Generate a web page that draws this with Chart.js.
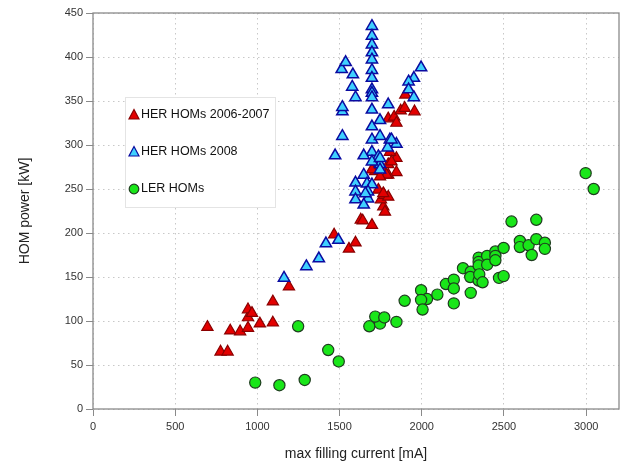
<!DOCTYPE html>
<html>
<head>
<meta charset="utf-8">
<script src="https://cdn.jsdelivr.net/npm/chart.js@4.4.1/dist/chart.umd.min.js"></script>
<style>
  html, body { margin: 0; padding: 0; background: #fff; }
  #wrap { width: 627px; height: 463px; }
</style>
</head>
<body>
<div id="wrap"><canvas id="homChart" width="627" height="463"></canvas></div>
<script>
// Data: [max filling current (mA), HOM power (kW)]
const herOld = [
  [696, 93], [776, 65], [819, 65], [835, 89], [895, 88], [943, 92], [943, 104], [943, 113],
  [967, 109], [1015, 97], [1094, 98], [1094, 122], [1192, 139],
  [1467, 198], [1557, 182], [1597, 189], [1629, 215], [1641, 214], [1697, 209],
  [1766, 230], [1776, 224], [1752, 238], [1736, 249], [1772, 243], [1796, 241],
  [1716, 270], [1752, 275], [1796, 278], [1846, 269], [1796, 266], [1846, 285], [1806, 292],
  [1816, 281], [1786, 266], [1746, 264], [1697, 272], [1766, 245],
  [1796, 330], [1832, 332], [1846, 325], [1872, 339], [1896, 342], [1956, 338], [1900, 357]
];
const her2008 = [
  [1162, 149], [1298, 162], [1374, 171], [1417, 188], [1493, 192],
  [1473, 288], [1517, 310], [1517, 338], [1517, 343], [1513, 386], [1537, 394], [1581, 380],
  [1577, 366], [1597, 354],
  [1697, 435], [1697, 424], [1697, 414], [1697, 405], [1697, 397], [1697, 385], [1697, 376],
  [1697, 363], [1697, 359], [1697, 354], [1697, 340], [1697, 321], [1697, 306], [1697, 292],
  [1996, 388], [1952, 376], [1920, 372], [1920, 363], [1952, 354], [1796, 346], [1746, 328],
  [1746, 310], [1806, 306], [1846, 301], [1792, 297], [1816, 306],
  [1647, 288], [1736, 287], [1746, 278], [1746, 272], [1647, 266], [1597, 257], [1667, 256],
  [1697, 255], [1597, 247], [1673, 247], [1673, 239], [1597, 238], [1647, 232],
  [1697, 281], [1746, 285], [1657, 245]
];
const lerHoms = [
  [987, 30], [1134, 27], [1288, 33], [1248, 94], [1431, 67], [1495, 54],
  [1681, 94], [1746, 97], [1717, 105], [1772, 104], [1846, 99], [1896, 123],
  [1996, 135], [2032, 125], [1996, 124], [2005, 113], [2095, 130], [2147, 142], [2195, 147],
  [2195, 137], [2195, 120], [2251, 160], [2298, 156], [2295, 150], [2298, 132],
  [2346, 172], [2346, 167], [2346, 163], [2346, 146], [2350, 153], [2370, 144], [2398, 174],
  [2398, 164], [2448, 179], [2448, 174], [2448, 169], [2470, 149], [2498, 151], [2498, 183],
  [2546, 213], [2597, 191], [2597, 184], [2650, 186], [2669, 175], [2697, 193], [2697, 215],
  [2749, 189], [2749, 182],
  [2997, 268], [3046, 250]
];
const seriesNames = ['HER HOMs 2006-2007', 'HER HOMs 2008', 'LER HOMs'];
const xTicks = [0, 500, 1000, 1500, 2000, 2500, 3000];
const yTicks = [0, 50, 100, 150, 200, 250, 300, 350, 400, 450];

function toPoints(arr) {
  return arr.map(p => ({ x: p[0], y: p[1] }));
}

const FONT = "'Liberation Sans', Arial, sans-serif";

// frame around the plot area + legend box inside the plot
const framePlugin = {
  id: 'frame',
  beforeDatasetsDraw(chart) {
    const { ctx, chartArea: a } = chart;
    ctx.save();
    ctx.strokeStyle = '#8a8a8a';
    ctx.lineWidth = 1.3;
    ctx.strokeRect(a.left, a.top, a.right - a.left, a.bottom - a.top);
    ctx.restore();
  },
  afterDraw(chart) {
    const ctx = chart.ctx;
    ctx.save();
    ctx.fillStyle = '#ffffff';
    ctx.fillRect(125, 97, 150, 110);
    ctx.strokeStyle = '#e4e4e4';
    ctx.lineWidth = 1;
    ctx.strokeRect(125.5, 97.5, 150, 110);
    const rows = [115, 152, 189];
    chart.data.datasets.forEach((ds, i) => {
      const y = rows[i];
      ctx.fillStyle = ds.backgroundColor;
      ctx.strokeStyle = ds.borderColor;
      ctx.lineWidth = 1.2;
      ctx.beginPath();
      if (ds.pointStyle === 'triangle') {
        ctx.moveTo(134, y - 5.5);
        ctx.lineTo(139, y + 4);
        ctx.lineTo(129, y + 4);
        ctx.closePath();
      } else {
        ctx.arc(134, y, 4.8, 0, Math.PI * 2);
      }
      ctx.fill();
      ctx.stroke();
      ctx.fillStyle = '#111';
      ctx.font = '12.5px ' + FONT;
      ctx.textBaseline = 'middle';
      ctx.fillText(ds.label, 141, y);
    });
    ctx.restore();
  }
};

const gridCommon = {
  color: '#c8c8c8',
  lineWidth: 1,
  tickLength: 7,
  tickColor: '#8a8a8a',
  tickBorderDash: []
};

new Chart(document.getElementById('homChart').getContext('2d'), {
  type: 'scatter',
  data: {
    datasets: [
      {
        label: seriesNames[0],
        data: toPoints(herOld),
        order: 1,
        pointStyle: 'triangle',
        pointRadius: 6.5,
        backgroundColor: '#e30000',
        borderColor: '#8a0000',
        borderWidth: 1.2
      },
      {
        label: seriesNames[1],
        data: toPoints(her2008),
        order: 0,
        pointStyle: 'triangle',
        pointRadius: 6.5,
        backgroundColor: '#3fd0ff',
        borderColor: '#0a0aa0',
        borderWidth: 1.5
      },
      {
        label: seriesNames[2],
        data: toPoints(lerHoms),
        order: 2,
        pointStyle: 'circle',
        pointRadius: 5.6,
        backgroundColor: '#19e619',
        borderColor: '#1f3d1f',
        borderWidth: 1.2
      }
    ]
  },
  options: {
    responsive: false,
    animation: false,
    layout: { padding: { top: 13, right: 0, left: 0, bottom: 0 } },
    plugins: {
      legend: { display: false },
      tooltip: { enabled: false }
    },
    scales: {
      x: {
        type: 'linear',
        min: 0,
        max: 3200,
        afterBuildTicks: s => { s.ticks = xTicks.map(v => ({ value: v })); },
        afterFit: s => { s.height = 54; },
        grid: gridCommon,
        border: { display: false, dash: [1.5, 3.5] },
        ticks: {
          color: '#333',
          font: { family: FONT, size: 11 },
          padding: 4,
          maxRotation: 0,
          callback: v => String(v)
        },
        title: {
          display: true,
          text: 'max filling current [mA]',
          color: '#222',
          font: { family: FONT, size: 14 },
          padding: { top: 6, bottom: 0 }
        }
      },
      y: {
        min: 0,
        max: 450,
        afterBuildTicks: s => { s.ticks = yTicks.map(v => ({ value: v })); },
        afterFit: s => { s.width = 93; },
        grid: gridCommon,
        border: { display: false, dash: [1.5, 3.5] },
        ticks: {
          color: '#333',
          font: { family: FONT, size: 11 },
          padding: 3,
          callback: v => String(v)
        },
        title: {
          display: true,
          text: 'HOM power [kW]',
          color: '#222',
          font: { family: FONT, size: 14 },
          padding: { top: 17, bottom: 0 }
        }
      }
    }
  },
  plugins: [framePlugin]
});
</script>
</body>
</html>
